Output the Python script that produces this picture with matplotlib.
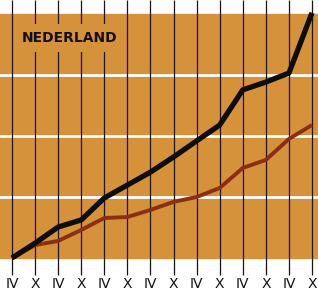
import numpy as np
import matplotlib
matplotlib.use('Agg')
import matplotlib.pyplot as plt

# quarters: april / october
labels = ['IV', 'X'] * 7
black = [0, 6.1, 12.7, 15.6, 24.6, 29.9, 35.2, 41.4, 48.0, 54.5, 68.9, 72.1, 75.8, 100.5]
red = [0, 5.3, 7.0, 11.5, 16.4, 16.8, 19.7, 23.0, 25.0, 28.7, 36.9, 40.2, 48.8, 54.5]

orange = '#d6913b'

fig = plt.figure(figsize=(3.18, 2.94), dpi=100)
ax = fig.add_axes([0, 0, 1, 1])
ax.set_xlim(-0.52, 13.26)
ax.set_ylim(-14.75, 105.74)
ax.axis('off')

x = np.arange(len(labels))

# background band
ax.axhspan(0, 100, color=orange, zorder=0)
for yy in [25, 50, 75]:
    ax.axhline(yy, color='white', lw=2.0, zorder=1)

# vertical lines
ax.vlines(x, -7, 105.74, color='#1a1410', lw=0.9, zorder=2)

for xi, lab in zip(x, labels):
    ax.text(xi, -10.8, lab, ha='center', va='center', fontsize=10,
            family='DejaVu Sans', color='#111111')

ax.text(0.43, 90.2, 'NEDERLAND', ha='left', va='center', fontsize=10,
        fontweight='bold', color='#111111', zorder=3,
        bbox=dict(facecolor=orange, edgecolor='none', pad=5))

ax.plot(x, red, color='#8a2e14', lw=2.8, solid_capstyle='butt', zorder=4)
ax.plot(x, black, color='#0d0d0d', lw=3.8, solid_capstyle='butt', zorder=5)

fig.savefig('out.png', dpi=100)
